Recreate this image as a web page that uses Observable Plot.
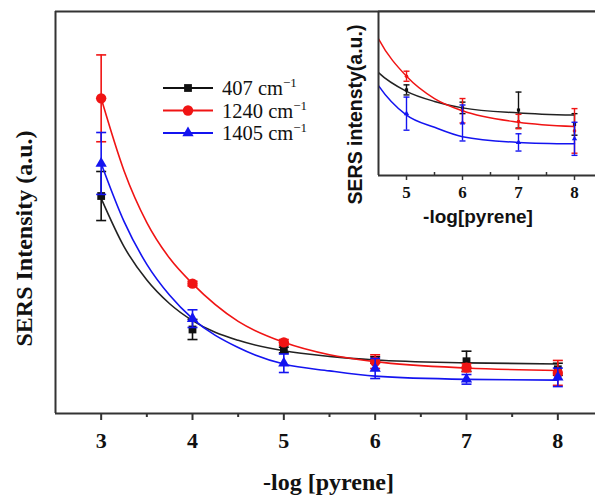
<!DOCTYPE html>
<html>
<head>
<meta charset="utf-8">
<script src="https://cdn.jsdelivr.net/npm/d3@7"></script>
<script src="https://cdn.jsdelivr.net/npm/@observablehq/plot@0.6"></script>
<style>
  html, body { margin: 0; padding: 0; background: white; overflow: hidden; }
  #wrap { position: relative; width: 595px; height: 495px; overflow: hidden; }
  #inset { position: absolute; left: 318px; top: 0px; }
</style>
</head>
<body>
<div id="wrap"><div id="main"></div><div id="inset"></div></div>
<script>
// ---- data ----
const series = ["407", "1240", "1405"];
const seriesColors = ["#111111", "#f01414", "#1414f0"];
const curveColors = ["#222222", "#f01414", "#1414f0"];
const seriesSymbols = ["square", "circle", "triangle"];

const xs = [3, 4, 5, 6, 7, 8];
const val407  = [54.1, 20.9, 15.8, 13.3, 13.0, 11.0];
const err407  = [6.1, 2.5, 0.7, 0.8, 2.5, 1.5];
const val1240 = [78.4, 32.3, 17.7, 12.9, 11.4, 10.1];
const err1240 = [10.8, 0.6, 0.7, 1.7, 1.0, 3.1];
const val1405 = [62.2, 23.6, 12.5, 11.2, 8.5, 9.0];
const err1405 = [7.7, 2.2, 2.3, 2.5, 1.2, 2.3];

const fitX    = [3, 3.25, 3.5, 3.75, 4, 4.5, 5, 5.5, 6, 7, 8];
const fit407  = [53.5, 41.5, 33.2, 27.3, 23.1, 18.2, 15.6, 14.2, 13.3, 12.6, 12.3];
const fit1240 = [78.4, 60.4, 47.5, 38.6, 32.3, 22.9, 17.7, 14.6, 12.9, 11.3, 10.7];
const fit1405 = [62.2, 47.8, 37.1, 29.4, 23.6, 16.4, 12.3, 10.6, 9.3, 8.5, 8.3];

const mainTicks = [3, 4, 5, 6, 7, 8];
const mainMinor = [3.5, 4.5, 5.5, 6.5, 7.5];
const insetTicks = [5, 6, 7, 8];
const insetMinor = [5.5, 6.5, 7.5];

const mainYLabel = "SERS Intensity (a.u.)";
const mainXLabel = "-log [pyrene]";
const insetYLabel = "SERS intensty(a.u.)";
const insetXLabel = "-log[pyrene]";

// ---- tables ----
const vals = [val407, val1240, val1405];
const errs = [err407, err1240, err1405];
const fits = [fit407, fit1240, fit1405];
const points = series.map((s, i) => xs.map((x, j) => ({x, y: vals[i][j], lo: vals[i][j] - errs[i][j], hi: vals[i][j] + errs[i][j]})));
const curves = series.map((s, i) => fitX.map((x, j) => ({x, y: fits[i][j]})));

const capSymbol = { draw(ctx, size) { const w = Math.sqrt(size); ctx.moveTo(-w, 0); ctx.lineTo(w, 0); } };
const serif = "Liberation Serif";
const sans = "Liberation Sans";
const frameColor = "#333333";

function seriesMarks(i, opts) {
  const c = seriesColors[i];
  const d = points[i].filter(p => p.x >= opts.xMin);
  const caps = d.flatMap(p => [{x: p.x, y: p.lo}, {x: p.x, y: p.hi}]);
  const r = opts.markerR[i];
  return [
    Plot.line(curves[i], {x: "x", y: "y", stroke: curveColors[i], strokeWidth: opts.lineW, curve: "monotone-x", clip: true}),
    Plot.ruleX(d, {x: "x", y1: "lo", y2: "hi", stroke: c, strokeWidth: opts.errW, clip: true}),
    Plot.dot(caps, {x: "x", y: "y", symbol: capSymbol, r: opts.capR, stroke: c, strokeWidth: opts.errW, fill: "none", clip: true}),
    Plot.dot(d, {x: "x", y: "y", symbol: seriesSymbols[i], r, fill: c, stroke: "none", clip: true})
  ];
}

// ---- main chart ----
const mainOpts = {xMin: 2.5, markerR: [4.4, 5.2, 4.2], lineW: 1.6, errW: 1.6, capR: 5 / 1.772};
const main = Plot.plot({
  width: 595, height: 495,
  marginLeft: 55, marginRight: 0, marginTop: 11, marginBottom: 82,
  x: {domain: [2.5, 8.5], range: [55, 603]},
  y: {domain: [0, 100], axis: null},
  style: {fontFamily: serif, background: "white", overflow: "hidden"},
  marks: [
    ...seriesMarks(0, mainOpts),
    ...seriesMarks(1, mainOpts),
    ...seriesMarks(2, mainOpts),
    Plot.ruleY([100], {stroke: frameColor, strokeWidth: 2}),
    Plot.ruleY([0], {stroke: frameColor, strokeWidth: 2}),
    Plot.ruleX([2.5], {stroke: frameColor, strokeWidth: 2}),
    Plot.axisX({ticks: mainTicks, tickSize: 7, tickPadding: 12, fontSize: 22, fontWeight: "bold", fontFamily: serif, stroke: frameColor, strokeWidth: 2, fill: "#111", tickFormat: d => String(d), label: null}),
    Plot.axisX({ticks: mainMinor, tickSize: 4, stroke: frameColor, strokeWidth: 2, tickFormat: () => "", label: null}),
    Plot.text([mainYLabel], {frameAnchor: "left", textAnchor: "middle", lineAnchor: "middle", rotate: -90, dx: -31, dy: 26, fontSize: 24, fontWeight: "bold", fontFamily: serif, fill: "#111"}),
    Plot.text([mainXLabel], {frameAnchor: "bottom", textAnchor: "middle", lineAnchor: "middle", dx: 3, dy: 69, fontSize: 24, fontWeight: "bold", fontFamily: serif, fill: "#111"})
  ]
});
document.getElementById("main").appendChild(main);

// legend
const lg = d3.select(main).append("g").attr("font-family", serif).attr("text-anchor", "start");
const symType = {square: d3.symbolSquare, circle: d3.symbolCircle, triangle: d3.symbolTriangle};
series.forEach((s, i) => {
  const y = 88 + i * 22.5;
  const g = lg.append("g").attr("transform", `translate(0,${y})`);
  g.append("line").attr("x1", 163).attr("x2", 213).attr("y1", 0).attr("y2", 0).attr("stroke", seriesColors[i]).attr("stroke-width", 2);
  const r = mainOpts.markerR[i];
  g.append("path").attr("d", d3.symbol(symType[seriesSymbols[i]], Math.PI * r * r)()).attr("transform", "translate(188,0)").attr("fill", seriesColors[i]);
  const t = g.append("text").attr("x", 222).attr("y", 7).attr("font-size", 20.5).attr("fill", "#111").attr("text-anchor", "start");
  t.append("tspan").text(s + " cm");
  t.append("tspan").attr("dy", -8).attr("font-size", 13).text("\u22121");
});

// ---- inset ----
const insetOpts = {xMin: 4.5, markerR: [1.8, 1.8, 2.0], lineW: 1.5, errW: 1.4, capR: 3 / 1.772};
const inset = Plot.plot({
  width: 277, height: 235,
  marginLeft: 60, marginRight: 0, marginTop: 11, marginBottom: 60,
  x: {domain: [4.5, 8.5], range: [60, 284]},
  y: {domain: [3.9, 26.7], axis: null},
  style: {fontFamily: serif, background: "transparent", overflow: "hidden"},
  marks: [
    Plot.frame({fill: "white", stroke: "none"}),
    ...seriesMarks(0, insetOpts),
    ...seriesMarks(1, insetOpts),
    ...seriesMarks(2, insetOpts),
    Plot.ruleX([4.5], {stroke: frameColor, strokeWidth: 2}),
    Plot.ruleY([3.9], {stroke: frameColor, strokeWidth: 2}),
    Plot.ruleY([26.7], {stroke: frameColor, strokeWidth: 2}),
    Plot.axisX({ticks: insetTicks, tickSize: 5, tickPadding: 5, fontSize: 17, fontWeight: "bold", fontFamily: serif, stroke: frameColor, strokeWidth: 1.5, fill: "#111", tickFormat: d => String(d), label: null}),
    Plot.axisX({ticks: insetMinor, tickSize: 3, dy: -3, stroke: frameColor, strokeWidth: 1.5, tickFormat: () => "", label: null}),
    Plot.text([insetYLabel], {frameAnchor: "left", textAnchor: "middle", lineAnchor: "middle", rotate: -90, dx: -23, dy: 21, fontSize: 19.5, fontWeight: "bold", fontFamily: sans, fill: "#111"}),
    Plot.text([insetXLabel], {frameAnchor: "bottom", textAnchor: "middle", lineAnchor: "middle", dx: -9, dy: 41, fontSize: 19, fontWeight: "bold", fontFamily: sans, fill: "#111"})
  ]
});
document.getElementById("inset").appendChild(inset);
</script>
</body>
</html>
